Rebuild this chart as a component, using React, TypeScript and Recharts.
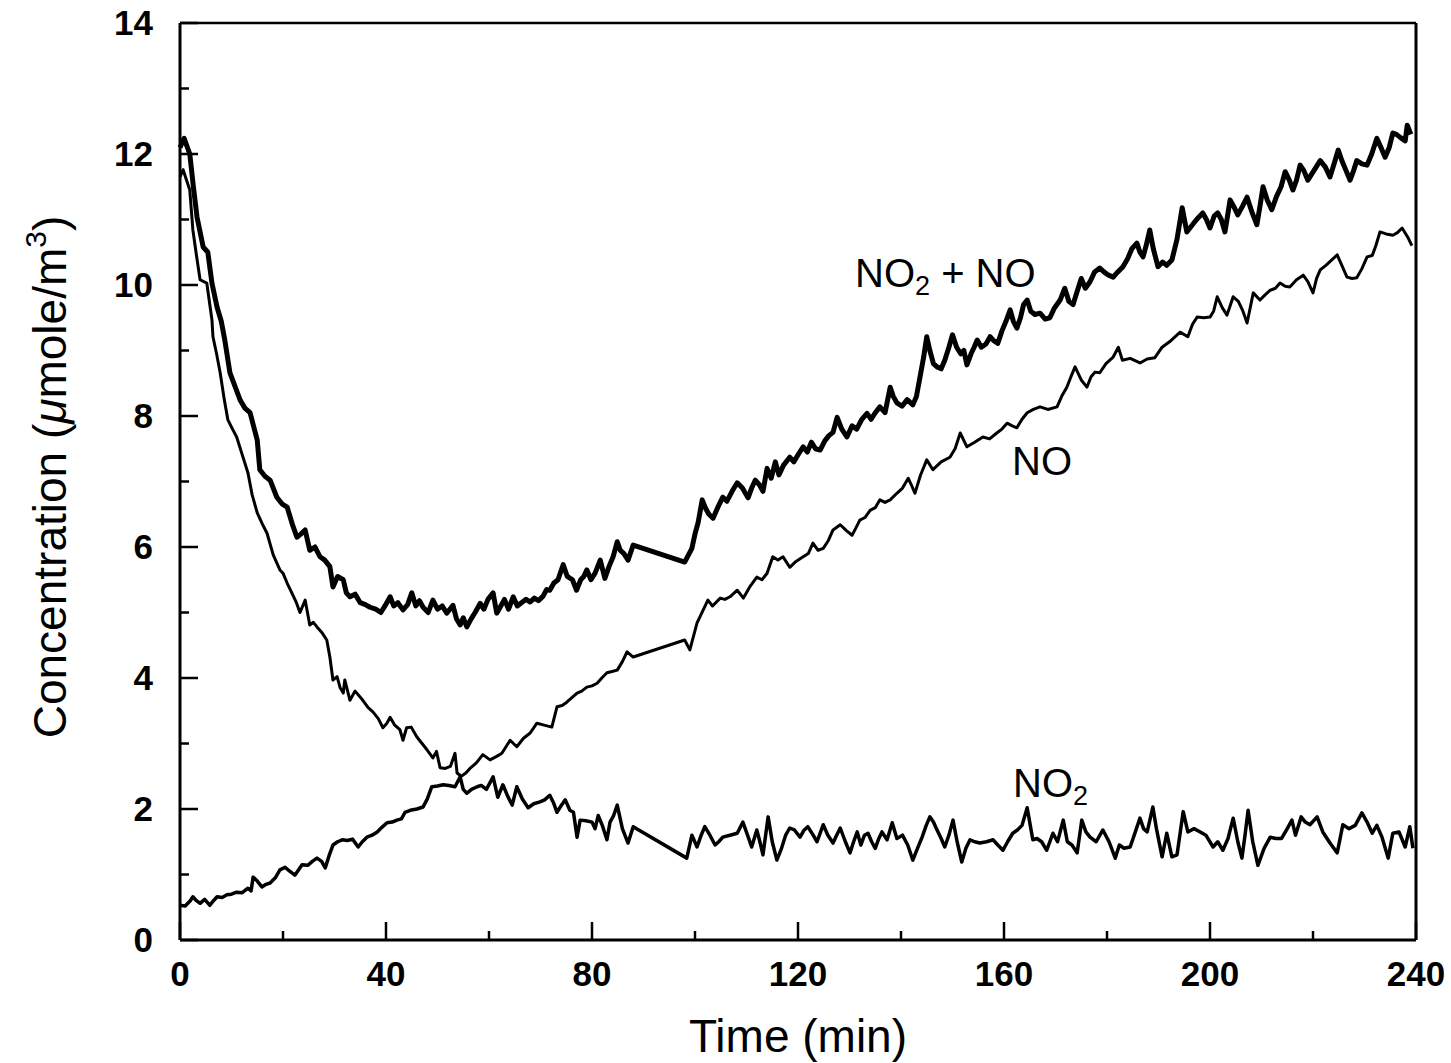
import { LineChart, Line, XAxis, YAxis, ReferenceLine } from "recharts";

// NO2 + NO (thick upper trace)
const sumTime = [
  0, 0.8, 1.9, 2.6, 3.3, 4.5, 5.4, 6.2, 7.2, 8.0, 8.7, 9.7, 10.7, 11.7, 12.6, 13.6, 15.0, 15.5, 16.5, 17.5,
  18.8, 19.8, 20.8, 21.8, 22.7, 23.5, 24.3, 25.2, 26.2, 27.2, 28.1, 29.1, 29.7, 30.6, 31.7, 32.3, 33.0, 34.0, 35.0, 36.0,
  36.9, 38.0, 39.0, 39.8, 40.8, 41.5, 42.3, 43.3, 44.2, 45.0, 45.8, 46.5, 47.2, 48.2, 49.1, 50.0, 50.9, 51.8, 52.4, 53.0,
  53.7, 54.4, 55.0, 55.7, 56.5, 57.3, 58.3, 59.0, 59.8, 60.8, 61.5, 62.3, 63.0, 63.8, 64.7, 65.5, 66.3, 67.2, 68.0, 68.8,
  69.6, 70.5, 71.2, 71.8, 72.6, 73.4, 74.4, 75.2, 76.2, 77.0, 77.8, 78.4, 79.0, 79.8, 80.6, 81.6, 82.5, 83.3, 84.1, 84.9,
  85.5, 86.2, 87.0, 88.0, 98.0, 99.4, 100.0, 100.6, 101.4, 102.0, 102.7, 103.5, 104.4, 105.4, 106.2, 107.2, 108.2, 109.2, 110.3, 111.0,
  111.7, 112.5, 113.2, 114.0, 114.8, 115.6, 116.3, 117.2, 118.4, 119.2, 120.1, 121.0, 121.8, 122.6, 123.4, 124.3, 125.2, 126.0, 126.8, 127.6,
  128.5, 129.5, 130.5, 131.4, 132.4, 133.4, 134.2, 135.0, 135.9, 136.9, 137.9, 138.5, 139.2, 140.2, 141.2, 142.3, 143.0, 143.7, 144.4, 145.0,
  145.6, 146.3, 147.0, 147.8, 148.5, 149.3, 150.0, 150.8, 151.6, 152.2, 152.8, 153.6, 154.2, 154.8, 155.6, 156.5, 157.3, 158.0, 158.8, 159.6,
  160.4, 161.2, 161.8, 162.5, 163.2, 163.8, 164.5, 165.2, 166.0, 167.0, 168.0, 168.9, 169.8, 170.9, 171.8, 172.6, 173.4, 174.2, 175.0, 175.8,
  176.7, 177.6, 178.6, 179.4, 180.3, 181.2, 182.1, 183.1, 184.0, 184.8, 185.8, 186.4, 187.0, 187.6, 188.3, 189.0, 189.9, 190.8, 191.6, 192.6,
  193.6, 194.6, 195.5, 196.4, 197.4, 198.6, 199.3, 200.0, 200.8, 201.5, 202.2, 202.9, 203.4, 203.9, 204.6, 205.4, 206.3, 207.2, 208.2, 209.1,
  209.7, 210.3, 211.1, 212.0, 212.9, 213.8, 214.6, 215.4, 216.1, 216.8, 217.5, 218.2, 219.0, 220.2, 221.4, 222.4, 223.3, 224.1, 224.9, 225.6,
  226.4, 227.2, 227.9, 228.5, 229.5, 230.5, 231.4, 232.4, 233.2, 234.0, 234.8, 235.5, 236.2, 237.0, 237.9, 238.3, 239.0,
];
const sumValue = [
  12.1, 12.24, 12.0, 11.5, 11.04, 10.58, 10.5, 10.03, 9.66, 9.45, 9.16, 8.66, 8.45, 8.24, 8.12, 8.05, 7.63, 7.18, 7.08, 7.02,
  6.76, 6.66, 6.61, 6.35, 6.15, 6.2, 6.26, 5.95, 6.0, 5.85, 5.8, 5.7, 5.39, 5.55, 5.5, 5.3, 5.24, 5.28, 5.15, 5.12,
  5.08, 5.05, 5.0, 5.1, 5.24, 5.1, 5.15, 5.04, 5.12, 5.3, 5.1, 5.18, 5.08, 5.0, 5.19, 5.05, 5.1, 4.99, 5.05, 5.11,
  4.9, 4.81, 4.92, 4.78, 4.9, 5.0, 5.14, 5.05, 5.2, 5.3, 4.99, 5.1, 5.2, 5.05, 5.24, 5.1, 5.15, 5.2, 5.16, 5.22,
  5.18, 5.25, 5.35, 5.34, 5.45, 5.5, 5.73, 5.55, 5.5, 5.34, 5.5, 5.55, 5.65, 5.5, 5.6, 5.8, 5.52, 5.7, 5.85, 6.08,
  5.95, 5.9, 5.8, 6.03, 5.77, 5.98, 6.2, 6.37, 6.72, 6.6, 6.5, 6.44, 6.6, 6.76, 6.7, 6.85, 6.98, 6.9, 6.75, 6.9,
  7.02, 6.95, 6.85, 7.2, 7.05, 7.3, 7.1, 7.25, 7.37, 7.3, 7.42, 7.53, 7.45, 7.6, 7.5, 7.48, 7.62, 7.7, 7.75, 7.98,
  7.8, 7.68, 7.85, 7.8, 7.95, 8.04, 7.95, 8.05, 8.14, 8.05, 8.44, 8.3, 8.2, 8.15, 8.25, 8.17, 8.3, 8.6, 8.9, 9.21,
  9.0, 8.8, 8.75, 8.72, 8.85, 9.05, 9.24, 9.05, 8.95, 9.0, 8.78, 8.95, 9.05, 9.16, 9.05, 9.1, 9.21, 9.15, 9.11, 9.3,
  9.45, 9.62, 9.45, 9.34, 9.5, 9.7, 9.77, 9.6, 9.55, 9.57, 9.48, 9.5, 9.65, 9.77, 9.95, 9.75, 9.7, 9.9, 10.1, 9.95,
  10.05, 10.2, 10.26, 10.2, 10.15, 10.12, 10.2, 10.28, 10.4, 10.55, 10.64, 10.5, 10.43, 10.6, 10.84, 10.55, 10.28, 10.35, 10.3, 10.38,
  10.7, 11.18, 10.81, 10.9, 11.0, 11.1, 11.0, 10.87, 11.05, 11.1, 11.0, 10.81, 11.05, 11.3, 11.2, 11.07, 11.2, 11.34, 11.1, 10.92,
  11.2, 11.5, 11.3, 11.15, 11.35, 11.5, 11.73, 11.6, 11.45, 11.6, 11.83, 11.75, 11.6, 11.75, 11.9, 11.8, 11.65, 11.85, 12.06, 11.9,
  11.75, 11.6, 11.75, 11.9, 11.85, 11.83, 12.0, 12.24, 12.1, 11.95, 12.1, 12.32, 12.3, 12.25, 12.2, 12.44, 12.3,
];

// NO
const noTime = [
  0, 0.6, 1.9, 2.5, 3.2, 3.9, 5.2, 6.2, 6.4, 7.1, 7.8, 8.6, 9.3, 10.2, 11.0, 12.0, 13.2, 14.0, 15.0, 16.0,
  16.9, 18.1, 19.4, 20.0, 20.8, 21.9, 22.6, 23.3, 24.3, 25.2, 25.9, 26.6, 27.5, 28.5, 29.1, 29.7, 30.5, 31.1, 31.7, 32.0,
  33.0, 34.0, 35.5, 36.5, 37.5, 38.5, 39.4, 40.1, 40.8, 41.7, 42.7, 43.3, 44.0, 44.9, 46.0, 47.0, 48.0, 49.1, 49.8, 50.5,
  51.5, 52.5, 53.4, 53.8, 54.6, 55.5, 56.3, 57.5, 58.8, 60.2, 61.4, 62.5, 63.3, 64.1, 65.4, 66.7, 68.0, 69.3, 70.7, 72.2,
  73.2, 74.2, 75.1, 76.1, 77.1, 78.0, 79.0, 80.0, 81.0, 81.9, 82.9, 83.9, 84.9, 85.9, 86.8, 88.0, 98.0, 99.0, 100.4, 101.6,
  102.5, 103.4, 104.9, 105.8, 106.8, 108.2, 109.4, 110.7, 112.0, 113.0, 114.0, 115.1, 116.1, 117.1, 118.4, 119.6, 121.0, 122.0, 122.9, 123.9,
  124.9, 125.9, 126.8, 128.2, 129.4, 130.5, 131.3, 132.0, 133.0, 134.0, 135.0, 135.9, 136.9, 137.9, 139.2, 140.3, 141.4, 142.0, 142.7, 143.8,
  145.0, 146.2, 147.8, 149.5, 150.5, 151.5, 152.8, 154.3, 155.9, 157.2, 158.6, 159.6, 160.6, 161.6, 162.5, 163.5, 164.5, 165.7, 167.0, 168.5,
  170.3, 171.2, 172.2, 173.0, 173.8, 175.0, 176.1, 176.9, 177.7, 178.6, 179.8, 181.2, 182.2, 183.0, 184.5, 186.4, 187.8, 189.3, 190.7, 192.4,
  194.2, 195.7, 196.6, 197.5, 198.8, 200.0, 200.7, 201.4, 202.4, 203.3, 204.5, 205.5, 206.4, 207.2, 208.4, 209.7, 210.7, 211.7, 212.7, 213.6,
  214.6, 215.5, 216.8, 218.1, 219.0, 220.0, 220.7, 221.4, 222.5, 223.6, 224.7, 225.6, 226.6, 227.6, 228.5, 229.5, 230.5, 231.5, 232.2, 233.0,
  234.2, 235.5, 236.4, 237.3, 238.4, 239.2,
];
const noValue = [
  11.65, 11.76, 11.45, 10.84, 10.45, 10.08, 10.03, 9.47, 9.21, 8.95, 8.66, 8.25, 7.94, 7.8, 7.68, 7.43, 7.13, 6.8, 6.52, 6.35,
  6.21, 5.88, 5.65, 5.6, 5.45, 5.27, 5.15, 5.0, 5.19, 4.81, 4.85, 4.78, 4.7, 4.58, 4.32, 3.97, 4.02, 3.85, 3.77, 3.97,
  3.66, 3.8, 3.66, 3.55, 3.48, 3.38, 3.24, 3.3, 3.4, 3.28, 3.21, 3.05, 3.24, 3.25, 3.1, 3.0, 2.9, 2.78, 2.88, 2.63,
  2.62, 2.65, 2.85, 2.55, 2.5, 2.55, 2.62, 2.7, 2.83, 2.75, 2.8, 2.85, 2.95, 3.05, 2.95, 3.08, 3.16, 3.31, 3.28, 3.25,
  3.56, 3.58, 3.63, 3.7, 3.77, 3.8, 3.86, 3.88, 3.92, 4.0, 4.08, 4.1, 4.12, 4.25, 4.4, 4.32, 4.58, 4.43, 4.84, 5.04,
  5.19, 5.1, 5.22, 5.2, 5.24, 5.34, 5.22, 5.4, 5.54, 5.5, 5.6, 5.85, 5.8, 5.85, 5.69, 5.78, 5.85, 5.9, 6.06, 5.95,
  5.98, 6.1, 6.26, 6.34, 6.25, 6.18, 6.3, 6.41, 6.45, 6.56, 6.6, 6.72, 6.68, 6.72, 6.82, 6.9, 7.05, 6.95, 6.82, 7.1,
  7.33, 7.18, 7.3, 7.37, 7.5, 7.74, 7.53, 7.6, 7.68, 7.65, 7.74, 7.8, 7.89, 7.85, 7.82, 7.95, 8.05, 8.1, 8.14, 8.1,
  8.14, 8.3, 8.44, 8.6, 8.75, 8.55, 8.44, 8.6, 8.67, 8.66, 8.8, 8.9, 9.05, 8.85, 8.88, 8.81, 8.87, 8.89, 9.05, 9.15,
  9.28, 9.21, 9.4, 9.51, 9.5, 9.51, 9.6, 9.82, 9.65, 9.54, 9.82, 9.75, 9.6, 9.42, 9.88, 9.77, 9.85, 9.92, 9.95, 10.03,
  9.98, 9.97, 10.08, 10.15, 10.05, 9.88, 10.1, 10.23, 10.3, 10.38, 10.46, 10.3, 10.12, 10.1, 10.11, 10.25, 10.43, 10.45, 10.6, 10.81,
  10.78, 10.76, 10.8, 10.87, 10.73, 10.6,
];

// NO2
const no2Time = [
  0, 1.0, 2.0, 2.5, 3.2, 3.9, 4.8, 5.8, 6.5, 7.2, 8.2, 9.1, 10.0, 11.0, 12.0, 13.2, 13.8, 14.2, 15.0, 15.9,
  16.7, 17.5, 18.5, 19.4, 20.4, 21.3, 22.3, 23.7, 24.8, 25.7, 26.6, 27.5, 28.2, 29.0, 29.7, 30.6, 31.5, 32.5, 33.5, 34.6,
  35.4, 36.3, 37.3, 38.3, 39.2, 40.2, 41.2, 42.1, 43.0, 43.7, 44.7, 46.0, 47.2, 48.0, 48.9, 50.0, 51.1, 52.2, 53.4, 54.4,
  55.0, 55.7, 56.6, 57.7, 58.5, 59.5, 60.8, 61.7, 62.7, 63.6, 64.5, 65.4, 66.5, 67.6, 68.7, 69.9, 70.8, 71.8, 72.5, 73.2,
  74.0, 74.8, 75.7, 76.4, 77.1, 77.7, 78.8, 80.0, 80.6, 81.2, 82.0, 82.9, 83.5, 84.2, 84.9, 85.9, 87.0, 88.0, 98.4, 99.4,
  100.4, 101.2, 101.9, 102.9, 103.9, 104.6, 105.4, 106.8, 108.2, 109.3, 110.2, 111.0, 112.0, 112.6, 113.2, 114.2, 115.0, 115.9, 116.8, 117.6,
  118.4, 119.3, 120.4, 121.2, 121.9, 122.8, 123.7, 124.9, 125.8, 126.8, 127.5, 128.2, 129.2, 130.1, 130.8, 131.5, 132.2, 132.9, 133.6, 134.3,
  135.0, 135.7, 136.3, 137.3, 138.3, 139.2, 140.3, 141.3, 142.3, 143.2, 144.1, 144.9, 145.6, 146.3, 147.0, 147.8, 148.5, 149.3, 150.1, 150.9,
  151.8, 152.6, 153.4, 154.3, 155.3, 156.6, 157.9, 158.8, 159.8, 160.7, 161.7, 162.6, 163.5, 164.5, 165.1, 165.6, 166.4, 167.3, 168.3, 169.5,
  170.4, 171.5, 172.3, 173.2, 174.2, 175.1, 175.9, 176.7, 177.9, 179.2, 180.4, 181.6, 182.4, 183.3, 184.5, 185.5, 186.4, 187.1, 187.8, 188.9,
  189.6, 190.7, 191.6, 192.6, 193.6, 194.8, 195.7, 196.9, 198.1, 199.2, 200.6, 201.5, 202.5, 203.5, 204.5, 205.4, 206.2, 206.8, 207.4, 208.3,
  209.3, 210.5, 211.7, 212.8, 213.9, 215.0, 215.9, 216.6, 217.7, 218.5, 219.4, 220.8, 221.9, 223.3, 224.7, 225.8, 227.0, 228.2, 229.5, 230.5,
  231.5, 232.4, 233.4, 234.6, 235.5, 236.7, 237.9, 238.8, 239.4,
];
const no2Value = [
  0.53, 0.52, 0.6, 0.66, 0.6, 0.56, 0.62, 0.53, 0.6, 0.66, 0.65, 0.69, 0.7, 0.73, 0.72, 0.79, 0.75, 0.96, 0.9, 0.81,
  0.85, 0.87, 0.95, 1.07, 1.11, 1.05, 0.99, 1.15, 1.14, 1.2, 1.25, 1.2, 1.1, 1.3, 1.45, 1.5, 1.53, 1.52, 1.54, 1.42,
  1.5, 1.57, 1.6, 1.65, 1.72, 1.79, 1.8, 1.83, 1.85, 1.95, 1.98, 2.0, 2.03, 2.15, 2.34, 2.35, 2.37, 2.36, 2.34, 2.49,
  2.3, 2.24, 2.3, 2.34, 2.36, 2.3, 2.49, 2.18, 2.37, 2.2, 2.06, 2.34, 2.15, 2.02, 2.08, 2.11, 2.14, 2.21, 2.1, 1.95,
  2.05, 2.14, 1.98, 1.95, 1.57, 1.83, 1.82, 1.8, 1.7, 1.9, 1.75, 1.53, 1.8, 1.9, 2.06, 1.7, 1.48, 1.73, 1.25, 1.6,
  1.42, 1.6, 1.73, 1.6, 1.45, 1.5, 1.57, 1.6, 1.63, 1.8, 1.6, 1.42, 1.68, 1.5, 1.3, 1.88, 1.5, 1.22, 1.4, 1.6,
  1.71, 1.68, 1.57, 1.68, 1.73, 1.62, 1.5, 1.76, 1.6, 1.48, 1.6, 1.71, 1.5, 1.33, 1.5, 1.65, 1.45, 1.6, 1.63, 1.5,
  1.4, 1.55, 1.65, 1.53, 1.79, 1.55, 1.6, 1.45, 1.22, 1.4, 1.57, 1.75, 1.88, 1.8, 1.68, 1.55, 1.42, 1.6, 1.83, 1.5,
  1.19, 1.4, 1.53, 1.5, 1.48, 1.5, 1.53, 1.45, 1.37, 1.5, 1.63, 1.68, 1.75, 2.02, 1.75, 1.53, 1.55, 1.5, 1.37, 1.63,
  1.5, 1.83, 1.5, 1.45, 1.33, 1.83, 1.65, 1.57, 1.5, 1.68, 1.5, 1.25, 1.45, 1.4, 1.42, 1.65, 1.86, 1.7, 1.65, 2.03,
  1.7, 1.27, 1.63, 1.27, 1.3, 1.96, 1.65, 1.7, 1.65, 1.6, 1.42, 1.5, 1.37, 1.55, 1.86, 1.5, 1.25, 1.6, 1.98, 1.5,
  1.14, 1.4, 1.57, 1.55, 1.55, 1.7, 1.83, 1.6, 1.88, 1.8, 1.76, 1.88, 1.65, 1.48, 1.33, 1.76, 1.7, 1.75, 1.94, 1.8,
  1.63, 1.75, 1.57, 1.25, 1.63, 1.65, 1.42, 1.73, 1.4,
];

const xTicks = [0, 20, 40, 60, 80, 100, 120, 140, 160, 180, 200, 220, 240];
const yTicks = [0, 1, 2, 3, 4, 5, 6, 7, 8, 9, 10, 11, 12, 13, 14];

const sumData = sumTime.map((t, i) => ({ t, v: sumValue[i] }));
const noData = noTime.map((t, i) => ({ t, v: noValue[i] }));
const no2Data = no2Time.map((t, i) => ({ t, v: no2Value[i] }));

const FONT = "'Liberation Sans', Arial, sans-serif";

function XTick(props: any) {
  const { x, y, payload } = props;
  const major = payload.value % 40 === 0;
  return (
    <g>
      <line x1={x} x2={x} y1={y} y2={y - (major ? 18 : 9)} stroke="#000" strokeWidth={2.5} />
      {major && (
        <text x={x} y={y + 46} textAnchor="middle" fontFamily={FONT} fontWeight="bold" fontSize={35} fill="#000">
          {payload.value}
        </text>
      )}
    </g>
  );
}

function YTick(props: any) {
  const { x, y, payload } = props;
  const major = payload.value % 2 === 0;
  return (
    <g>
      <line x1={x} x2={x + (major ? 18 : 9)} y1={y} y2={y} stroke="#000" strokeWidth={2.5} />
      {major && (
        <text x={x - 27} y={y + 12} textAnchor="end" fontFamily={FONT} fontWeight="bold" fontSize={35} fill="#000">
          {payload.value}
        </text>
      )}
    </g>
  );
}

export default function App() {
  return (
    <div style={{ position: "absolute", left: 0, top: 0, width: 1451, height: 1063, background: "#fff" }}>
      <LineChart width={1451} height={1063} margin={{ top: 23, right: 35, bottom: 0, left: 0 }}>
        <XAxis
          dataKey="t"
          type="number"
          domain={[0, 240]}
          ticks={xTicks}
          interval={0}
          height={123}
          tickSize={0}
          tickMargin={0}
          tickLine={false}
          tick={<XTick />}
          axisLine={{ stroke: "#000", strokeWidth: 3 }}
          allowDuplicatedCategory={false}
        />
        <YAxis
          type="number"
          domain={[0, 14]}
          ticks={yTicks}
          interval={0}
          width={180}
          tickSize={0}
          tickMargin={0}
          tickLine={false}
          tick={<YTick />}
          axisLine={{ stroke: "#000", strokeWidth: 3 }}
        />
        <ReferenceLine y={14} stroke="#000" strokeWidth={2.5} ifOverflow="extendDomain" />
        <ReferenceLine x={240} stroke="#000" strokeWidth={3} ifOverflow="extendDomain" />
        <Line data={sumData} dataKey="v" type="linear" stroke="#000" strokeWidth={5} dot={false} strokeLinejoin="round" isAnimationActive={false} />
        <Line data={noData} dataKey="v" type="linear" stroke="#000" strokeWidth={3} dot={false} strokeLinejoin="round" isAnimationActive={false} />
        <Line data={no2Data} dataKey="v" type="linear" stroke="#000" strokeWidth={3.5} dot={false} strokeLinejoin="round" isAnimationActive={false} />
      </LineChart>
      <svg width={1451} height={1063} style={{ position: "absolute", left: 0, top: 0, pointerEvents: "none" }}>
        <g fontFamily={FONT} fill="#000">
          <text x={798} y={1052} textAnchor="middle" fontSize={46}>Time (min)</text>
          <text x={66} y={477} textAnchor="middle" fontSize={46} transform="rotate(-90 66 477)">
            Concentration (<tspan fontStyle="italic">μ</tspan>mole/m<tspan fontSize={30} dy={-20}>3</tspan><tspan dy={20}>)</tspan>
          </text>
          <text x={855} y={287} fontSize={40}>
            NO<tspan fontSize={27} dy={8}>2</tspan><tspan dy={-8}> + NO</tspan>
          </text>
          <text x={1012} y={475} fontSize={40}>NO</text>
          <text x={1013} y={797} fontSize={40}>
            NO<tspan fontSize={27} dy={8}>2</tspan>
          </text>
        </g>
      </svg>
    </div>
  );
}
